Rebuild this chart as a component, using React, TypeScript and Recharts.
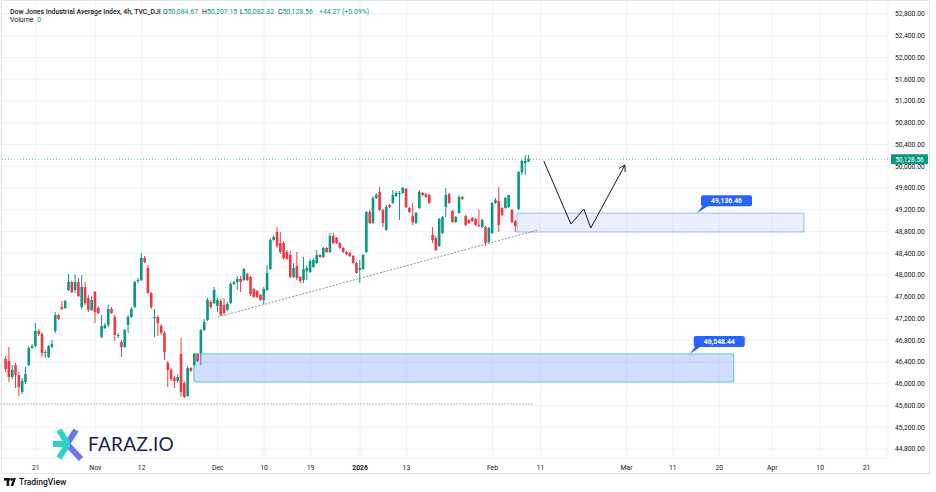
import React from 'react';
import {
  ComposedChart,
  Bar,
  XAxis,
  YAxis,
  CartesianGrid,
  ReferenceArea,
  ReferenceLine,
  ReferenceDot,
} from 'recharts';

// ---- OHLC series (4h bars, Oct 15 2025 -> Feb 9 2026) ----
const opens = [
  46456, 46419, 46125, 46345, 46161, 45849, 46033, 46345, 46658, 46695,
  46970, 46915, 46566, 46492, 46676, 46970, 47265, 47412, 47393, 47724,
  47872, 47724, 47872, 47412, 47780, 47577, 47357, 47688, 47393, 46860,
  47026, 47081, 47375, 47228, 46879, 46768, 46676, 47081, 47228, 47412,
  47890, 47908, 48313, 48129, 47669, 47210, 47228, 47062, 46934, 46382,
  46253, 46106, 46051, 46547, 46014, 45775, 46290, 46345, 46547, 46566,
  46989, 47173, 47504, 47485, 47430, 47522, 47449, 47357, 47485, 47835,
  47872, 47927, 47908, 48019, 47964, 47743, 47706, 47633, 47541, 47724,
  48111, 48644, 48791, 48589, 48589, 48423, 48368, 47964, 48166, 47964,
  47908, 48074, 48055, 48147, 48221, 48368, 48331, 48497, 48423, 48718,
  48681, 48589, 48497, 48423, 48405, 48350, 48221, 48092, 48111, 48423,
  49159, 48957, 49416, 49527, 49196, 48828, 49288, 49324, 49453, 49490,
  49508, 49582, 49232, 49085, 48957, 49232, 49508, 49490, 49472, 48736,
  48681, 48534, 48773, 49251, 49490, 49177, 48975, 49140, 49435, 49085,
  49012, 49049, 49030, 48920, 48883, 48883, 48607, 48773, 49324, 49361,
  49232, 49232, 49251, 49196, 48993, 49214, 49894, 50060, 50084.67,
];
const highs = [
  46511, 46676, 46345, 46382, 46216, 46106, 46308, 46695, 46731, 47118,
  47007, 46952, 46621, 46713, 46805, 47320, 47283, 47522, 47541, 48019,
  47890, 48019, 47945, 48000, 47872, 47633, 47614, 47706, 47430, 47265,
  47118, 47449, 47412, 47265, 46934, 46805, 47007, 47265, 47412, 47890,
  47945, 48405, 48350, 48184, 47688, 47375, 47265, 47099, 46970, 46419,
  46290, 46143, 46180, 46842, 46051, 46327, 46308, 46566, 46566, 47007,
  47191, 47577, 47541, 47780, 47577, 47559, 47577, 47504, 47872, 47890,
  47982, 47982, 48129, 48037, 47982, 47761, 47724, 47651, 47780, 48184,
  48681, 48736, 48883, 48791, 48626, 48460, 48442, 48221, 48423, 47982,
  48331, 48184, 48295, 48313, 48460, 48386, 48515, 48515, 48773, 48773,
  48699, 48607, 48515, 48442, 48423, 48368, 48239, 48276, 48386, 49177,
  49196, 49453, 49508, 49619, 49214, 49288, 49306, 49563, 49545, 49545,
  49619, 49600, 49251, 49324, 49159, 49563, 49527, 49508, 49490, 48883,
  48718, 49049, 49085, 49600, 49508, 49196, 49085, 49472, 49453, 49104,
  49030, 49067, 49049, 49196, 49030, 48901, 48883, 49343, 49416, 49619,
  49251, 49435, 49472, 49214, 49012, 49913, 50115, 50207, 50207.15,
];
const lows = [
  46216, 46033, 46088, 45922, 45775, 45812, 45996, 46327, 46639, 46676,
  46879, 46492, 46474, 46474, 46658, 46934, 47173, 47357, 47375, 47706,
  47669, 47669, 47596, 47375, 47449, 47320, 47338, 47118, 47283, 46842,
  47007, 47044, 47283, 46787, 46842, 46492, 46658, 46934, 47210, 47393,
  47853, 47890, 48221, 47651, 47375, 46860, 46879, 46897, 46437, 45941,
  46051, 45922, 46014, 45757, 45738, 45757, 46216, 46327, 46400, 46345,
  46970, 47154, 47375, 47467, 47320, 47246, 47265, 47338, 47467, 47816,
  47724, 47688, 47890, 47890, 47614, 47577, 47577, 47522, 47467, 47706,
  48092, 48626, 48497, 48386, 48276, 48276, 47945, 47945, 47908, 47853,
  47853, 47908, 48037, 48129, 48203, 48313, 48313, 48405, 48405, 48570,
  48570, 48478, 48405, 48368, 48331, 48203, 48019, 47853, 48092, 48405,
  48938, 48938, 49398, 49177, 48883, 48809, 49232, 49306, 49435, 49012,
  49490, 49232, 49140, 48920, 48938, 49214, 49453, 49416, 49306, 48589,
  48442, 48515, 48754, 49067, 49306, 48957, 48957, 49122, 49380, 48901,
  48938, 48975, 48901, 48883, 48865, 48534, 48589, 48754, 49306, 48791,
  49085, 49214, 49232, 48957, 48791, 49196, 49839, 49839, 50082.32,
];
const closes = [
  46272, 46125, 46253, 46161, 45941, 46051, 46180, 46658, 46695, 46970,
  46915, 46566, 46584, 46695, 46731, 47265, 47191, 47375, 47522, 47872,
  47688, 47872, 47614, 47780, 47485, 47357, 47541, 47320, 47301, 47062,
  47081, 47375, 47301, 46897, 46897, 46676, 46989, 47228, 47375, 47872,
  47908, 48313, 48239, 47669, 47412, 47228, 47118, 46934, 46584, 46253,
  46088, 46051, 46125, 45849, 45757, 46290, 46235, 46547, 46419, 46989,
  47136, 47541, 47412, 47724, 47541, 47265, 47301, 47467, 47835, 47872,
  47927, 47872, 48111, 47908, 47651, 47596, 47596, 47541, 47743, 48037,
  48644, 48699, 48534, 48423, 48313, 48295, 47964, 48129, 47945, 47890,
  48111, 48129, 48258, 48276, 48368, 48331, 48497, 48423, 48718, 48589,
  48589, 48497, 48423, 48386, 48350, 48221, 48037, 48129, 48368, 49159,
  48957, 49416, 49472, 49196, 48957, 49251, 49251, 49472, 49508, 49508,
  49600, 49251, 49159, 48975, 49140, 49527, 49472, 49435, 49324, 48644,
  48460, 49030, 49067, 49472, 49324, 48975, 49067, 49435, 49398, 48920,
  48957, 48993, 48920, 48901, 49012, 48589, 48865, 49324, 49380, 48920,
  49104, 49416, 49472, 48975, 48901, 49894, 50097, 50097, 50128.56,
];

// ---- axes ----
const timeTickIndex = [9, 27, 41, 64, 78, 92, 107, 121, 147, 161.5, 187.5, 201.5, 215.5, 231.5, 246, 260];
const timeTickLabels = ['21', 'Nov', '12', 'Dec', '10', '19', '2026', '13', 'Feb', '11', 'Mar', '11', '20', 'Apr', '10', '21'];
const priceTicks = [
  44800, 45200, 45600, 46000, 46400, 46800, 47200, 47600, 48000, 48400,
  48800, 49200, 49600, 50000, 50400, 50800, 51200, 51600, 52000, 52400, 52800,
];
const priceDomain = [44634.5, 53057.5];
const indexDomain = [-1.8, 266.5];

// ---- drawings ----
const lastPrice = 50128.56;
const lowLevel = 45630;
const lowLevelEnd = 159.2;
const zoneUpperX = [154.4, 241.1];
const zoneUpperY = [48790, 49136.46];
const zoneLowerX = [56.8, 219.9];
const zoneLowerY = [46033, 46548.44];
const calloutIdx = [208.8, 206.6];
const calloutPrice = [49136.46, 46548.44];
const trendIdx = [64.0, 160.7];
const trendPrice = [47228, 48828];
const zigIdx = [162.5, 170.7, 174.6, 176.7, 187.0];
const zigPrice = [50097, 48938, 49214, 48865, 50023];

const GREEN = '#089981';
const RED = '#f23645';
const FONT = 'Roboto, "Noto Sans", sans-serif';

const data = opens.map((o, i) => ({
  i,
  open: o,
  high: highs[i],
  low: lows[i],
  close: closes[i],
  range: [lows[i], highs[i]],
}));

const fmt = (v: number) =>
  v.toLocaleString('en-US', { minimumFractionDigits: 2, maximumFractionDigits: 2 });

const Candle = (props: any) => {
  const { x, y, width, height, payload } = props;
  if (x == null || y == null) return null;
  const { open, close, high, low } = payload;
  const up = close >= open;
  const color = up ? GREEN : RED;
  const ratio = high - low > 0 ? height / (high - low) : 0;
  const yOpen = y + (high - open) * ratio;
  const yClose = y + (high - close) * ratio;
  const cx = x + width / 2;
  const top = Math.min(yOpen, yClose);
  const h = Math.max(1, Math.abs(yClose - yOpen));
  return (
    <g>
      <line x1={cx} x2={cx} y1={y} y2={y + height} stroke={color} strokeWidth={1} />
      <rect x={x} y={top} width={width} height={h} fill={color} />
    </g>
  );
};

const PriceTick = (props: any) => {
  const { x, y, payload } = props;
  return (
    <text x={x} y={y} dy="0.35em" textAnchor="start" fill="#131722" fontSize={6.8} fontFamily={FONT}>
      {fmt(payload.value)}
    </text>
  );
};

const TimeTick = (props: any) => {
  const { x, y, payload } = props;
  const k = timeTickIndex.indexOf(payload.value);
  const label = k >= 0 ? timeTickLabels[k] : '';
  const bold = label === '2026';
  return (
    <text x={x} y={y + 9.5} dy="0.35em" textAnchor="middle" fill="#131722" fontSize={6.8} fontWeight={bold ? 700 : 400} fontFamily={FONT}>
      {label}
    </text>
  );
};

const Callout = (props: any) => {
  const { cx, cy, text } = props;
  if (cx == null || cy == null) return null;
  const bx = cx + 4;
  const by = cy - 18;
  const w = 51;
  const h = 11;
  return (
    <g>
      <path d={`M${cx},${cy} L${bx + 2},${by + h - 1} L${bx + 8},${by + h - 1} Z`} fill="#2962ff" />
      <rect x={bx} y={by} width={w} height={h} rx={2} fill="#2962ff" />
      <text x={bx + w / 2} y={by + h / 2} dy="0.35em" textAnchor="middle" fill="#ffffff" fontSize={6.8} fontWeight={700} fontFamily={FONT}>
        {text}
      </text>
    </g>
  );
};

const ArrowHead = (props: any) => {
  const { cx, cy } = props;
  if (cx == null || cy == null) return null;
  return (
    <path d={`M${cx - 6},${cy + 3.5} L${cx},${cy} L${cx + 0.3},${cy + 7}`} fill="none" stroke="#131722" strokeWidth={1} />
  );
};

const PriceLabel = (props: any) => {
  const vb = props.viewBox || {};
  const x = (vb.x || 0) + (vb.width || 0) + 3;
  const y = vb.y || 0;
  return (
    <g>
      <rect x={x} y={y - 5} width={37} height={10} rx={1} fill={GREEN} />
      <text x={x + 18.5} y={y} dy="0.35em" textAnchor="middle" fill="#ffffff" fontSize={6.5} fontFamily={FONT}>
        {fmt(lastPrice)}
      </text>
    </g>
  );
};

export default function App() {
  const zig = zigIdx.map((x, k) => ({ x, y: zigPrice[k] }));
  return (
    <div style={{ position: 'relative', width: 936, height: 492, background: '#ffffff', overflow: 'hidden', fontFamily: FONT }}>
      <style>{'body{margin:0;background:#fff}'}</style>
      <ComposedChart
        width={936}
        height={492}
        data={data}
        margin={{ top: 0, right: 0, bottom: 18, left: 0 }}
      >
        <CartesianGrid stroke="#f0f3fa" strokeWidth={1} />
        <XAxis
          dataKey="i"
          type="number"
          domain={indexDomain}
          allowDataOverflow
          ticks={timeTickIndex}
          interval={0}
          height={16}
          axisLine={false}
          tickLine={false}
          tickSize={0}
          tickMargin={0}
          tick={<TimeTick />}
        />
        <YAxis
          orientation="right"
          type="number"
          domain={priceDomain}
          allowDataOverflow
          ticks={priceTicks}
          interval={0}
          width={48}
          axisLine={false}
          tickLine={false}
          tickSize={0}
          tickMargin={7}
          tick={<PriceTick />}
        />
        <ReferenceArea
          x1={zoneLowerX[0]}
          x2={zoneLowerX[1]}
          y1={zoneLowerY[0]}
          y2={zoneLowerY[1]}
          fill="rgba(41,98,255,0.22)"
          fillOpacity={1}
          stroke="#55c6da"
          strokeWidth={1}
        />
        <ReferenceArea
          x1={zoneUpperX[0]}
          x2={zoneUpperX[1]}
          y1={zoneUpperY[0]}
          y2={zoneUpperY[1]}
          fill="rgba(41,98,255,0.1)"
          fillOpacity={1}
          stroke="rgba(41,98,255,0.4)"
          strokeWidth={1}
        />
        <ReferenceLine
          segment={[{ x: indexDomain[0], y: lowLevel }, { x: lowLevelEnd, y: lowLevel }]}
          stroke="#f6a3aa"
          strokeDasharray="2 4"
        />
        <ReferenceLine
          segment={[{ x: indexDomain[0] + 0.9, y: lowLevel }, { x: lowLevelEnd, y: lowLevel }]}
          stroke="#86d4c8"
          strokeDasharray="2 4"
        />
        <ReferenceLine
          segment={[{ x: trendIdx[0], y: trendPrice[0] }, { x: trendIdx[1], y: trendPrice[1] }]}
          stroke="#8d9099"
          strokeDasharray="2 1.5"
        />
        <Bar dataKey="range" barSize={2.6} isAnimationActive={false} shape={<Candle />} />
        <ReferenceLine y={lastPrice} stroke={GREEN} strokeDasharray="1 2" strokeOpacity={0.7} label={<PriceLabel />} />
        {zig.slice(1).map((p, k) => (
          <ReferenceLine
            key={'z' + k}
            segment={[{ x: zig[k].x, y: zig[k].y }, { x: p.x, y: p.y }]}
            stroke="#131722"
            strokeWidth={1}
          />
        ))}
        <ReferenceDot x={zig[zig.length - 1].x} y={zig[zig.length - 1].y} r={0} shape={<ArrowHead />} />
        <ReferenceDot x={calloutIdx[0]} y={calloutPrice[0]} r={0} shape={<Callout text={fmt(calloutPrice[0])} />} />
        <ReferenceDot x={calloutIdx[1]} y={calloutPrice[1]} r={0} shape={<Callout text={fmt(calloutPrice[1])} />} />
      </ComposedChart>

      {/* frame */}
      <div style={{ position: 'absolute', left: 1, top: 0, width: 929, height: 474, border: '1px solid #e0e3eb', boxSizing: 'border-box', pointerEvents: 'none' }} />

      {/* legend header */}
      <div style={{ position: 'absolute', left: 10, top: 8, fontSize: 6.9, lineHeight: '8px', color: '#131722', whiteSpace: 'nowrap', fontWeight: 500 }}>
        Dow Jones Industrial Average Index, 4h, TVC_DJI
      </div>
      {[
        ['O', '50,084.67', 163],
        ['H', '50,207.15', 202],
        ['L', '50,082.32', 240],
        ['C', '50,128.56', 278],
      ].map(([k, v, left]) => (
        <div key={k as string} style={{ position: 'absolute', left: left as number, top: 8, fontSize: 6.9, lineHeight: '8px', whiteSpace: 'nowrap' }}>
          <span style={{ color: '#131722' }}>{k}</span>
          <span style={{ color: GREEN }}>{v}</span>
        </div>
      ))}
      <div style={{ position: 'absolute', left: 319, top: 8, fontSize: 6.9, lineHeight: '8px', color: GREEN, whiteSpace: 'nowrap' }}>
        +44.27 (+0.09%)
      </div>
      <div style={{ position: 'absolute', left: 10, top: 16, fontSize: 6.9, lineHeight: '8px', whiteSpace: 'nowrap' }}>
        <span style={{ color: '#131722' }}>Volume</span>
        <span style={{ color: GREEN, marginLeft: 4 }}>0</span>
      </div>

      {/* FARAZ.IO watermark */}
      <svg style={{ position: 'absolute', left: 0, top: 0 }} width={936} height={492}>
        <g strokeLinecap="butt" strokeWidth={6}>
          <line x1={76} y1={430} x2={67} y2={444} stroke="#6b76f2" />
          <line x1={81} y1={459} x2={67} y2={444} stroke="#6b76f2" />
          <line x1={53} y1={444} x2={70} y2={444} stroke="#2fd3c4" />
          <line x1={59} y1={430} x2={68} y2={444} stroke="#2fd3c4" />
          <line x1={59} y1={458} x2={68} y2={444} stroke="#2fd3c4" />
        </g>
        {/* TradingView mark */}
        <g fill="#131722">
          <rect x={4} y={478} width={6} height={2.6} />
          <rect x={6.6} y={478} width={2.6} height={8} />
          <circle cx={11.6} cy={479.4} r={1.4} />
          <polygon points="10.6,486 13.4,478 16,478 13.2,486" />
        </g>
      </svg>
      <div style={{ position: 'absolute', left: 88, top: 433, fontSize: 19, lineHeight: '22px', color: '#1f1f4d', fontFamily: 'Lato, Roboto, sans-serif', letterSpacing: 0.3, whiteSpace: 'nowrap' }}>
        FARAZ.IO
      </div>
      <div style={{ position: 'absolute', left: 19, top: 477, fontSize: 8.5, lineHeight: '10px', color: '#131722', fontWeight: 500, whiteSpace: 'nowrap' }}>
        TradingView
      </div>
    </div>
  );
}
